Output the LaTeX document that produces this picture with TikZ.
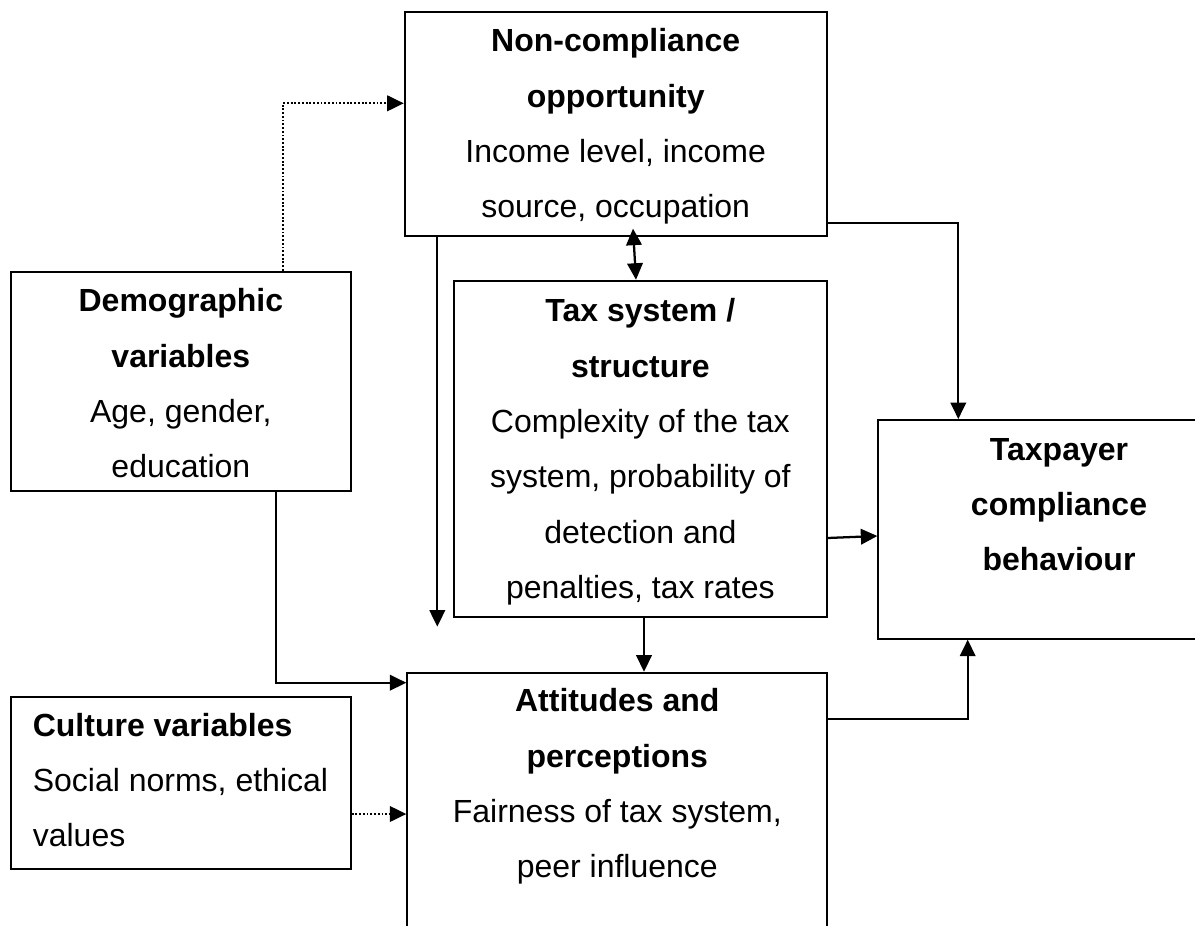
\documentclass[tikz,border=0pt]{standalone}
\usepackage{fontspec}
\setmainfont{Liberation Sans}
\usetikzlibrary{arrows.meta,calc}
\begin{document}
\begin{tikzpicture}[x=0.375pt,y=-0.375pt,
  panel/.style 2 args={draw, line width=0.7pt, rectangle, inner sep=0pt,
    minimum width=#1*0.375pt, minimum height=#2*0.375pt},
  boxtext/.style={inner sep=0pt, anchor=base, font=\fontsize{12}{20.78}\selectfont},
  flow/.style={line width=0.85pt, -{Triangle[length=6.2pt,width=5.8pt]}},
  dotflow/.style={flow, dash pattern=on 0.7pt off 0.7pt},
  twoway/.style={line width=0.85pt,
    {Triangle[length=6.2pt,width=5.8pt]}-{Triangle[length=6.2pt,width=5.8pt]}},
]
\useasboundingbox (0,0) rectangle (1195,925);
\clip (0,0) rectangle (1195,925);
\fill[white] (0,0) rectangle (1195,925);

% boxes
\node[panel={422}{224}]   (nc)   at (615.7,123.7) {};
\node[panel={372.7}{336}] (ts)   at (640.35,448.7) {};
\node[panel={339.7}{219}] (demo) at (180.85,381.2) {};
\node[panel={361.4}{218.7}] (tp) at (1059,529.35) {};
\node[panel={420}{287.3}] (att)  at (617.3,816.35) {};
\node[panel={339.7}{172.6}] (cul) at (180.85,783) {};

% box texts
\node[boxtext] (nc-t) at (615.7,51.7) {\parbox[t]{158pt}{\centering
  \textbf{Non-compliance}\\\textbf{opportunity}\\Income level, income\\source, occupation}};
\node[boxtext] (ts-t) at (640.35,321.7) {\parbox[t]{139pt}{\centering
  \textbf{Tax system /}\\\textbf{structure}\\Complexity of the tax\\system, probability of\\detection and\\penalties, tax rates}};
\node[boxtext] (demo-t) at (180.85,311.7) {\parbox[t]{127pt}{\centering
  \textbf{Demographic}\\\textbf{variables}\\Age, gender,\\education}};
\node[boxtext] (tp-t) at (1059,460) {\parbox[t]{135pt}{\centering
  \textbf{Taxpayer}\\\textbf{compliance}\\\textbf{behaviour}}};
\node[boxtext] (att-t) at (617.3,711.7) {\parbox[t]{157pt}{\centering
  \textbf{Attitudes and}\\\textbf{perceptions}\\Fairness of tax system,\\peer influence}};
\node[boxtext, anchor=base west] (cul-t) at (32.3,736) {\parbox[t]{118pt}{\raggedright
  \textbf{Culture variables}\\Social norms, ethical\\values}};

% connectors
\coordinate (dropend) at (437.3,626.7);
\draw[dotflow] (demo.north -| 282.7,0) |- (nc.west |- 0,103.3);
\draw[flow] (nc.south -| 437.3,0) -- (dropend);
\draw[twoway] ($(nc.south -| 633,0)+(0,-8)$) -- (ts.north -| 636,0);
\draw[flow] (nc.east |- 0,223.3) -| (tp.north -| 958.3,0);
\draw[flow] (ts.east |- 0,538) -- (tp.west |- 0,536);
\draw[flow] (ts.south -| 644,0) -- (att.north -| 644,0);
\draw[flow] (demo.south -| 276,0) |- (att.west |- 0,682.7);
\draw[dotflow] (cul.east |- 0,814) -- (att.west |- 0,814);
\draw[flow] (att.east |- 0,719) -| (tp.south -| 967.7,0);
\end{tikzpicture}
\end{document}
